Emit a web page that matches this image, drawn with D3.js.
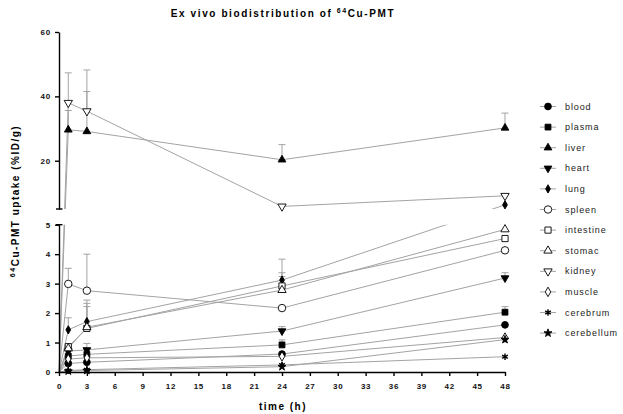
<!DOCTYPE html>
<html>
<head>
<meta charset="utf-8">
<script src="https://cdn.jsdelivr.net/npm/d3@7"></script>
<style>
  body { margin: 0; background: #fff; }
  svg { font-family: "Liberation Sans", Arial, sans-serif; }
  .tick text { font-size: 8px; font-weight: bold; letter-spacing: 0.8px; fill: #111; }
  .axis path, .axis line { stroke: #000; stroke-width: 1.4px; }
</style>
</head>
<body>
<div id="container"></div>
<script>
// time points (h)
const times = [0, 1, 3, 24, 48];
const xTicks = d3.range(0, 49, 3);
const lowTicks = [0, 1, 2, 3, 4, 5];
const highTicks = [20, 40, 60];

const names = ["blood", "plasma", "liver", "heart", "lung", "spleen",
  "intestine", "stomac", "kidney", "muscle", "cerebrum", "cerebellum"];

// %ID/g per tissue, one value per time point
const blood      = [0, 0.29, 0.33, 0.61, 1.60];
const plasma     = [0, 0.54, 0.60, 0.92, 2.03];
const liver      = [0, 29.6, 29.1, 20.3, 30.2];
const heart      = [0, 0.71, 0.75, 1.39, 3.19];
const lung       = [0, 1.43, 1.71, 3.12, 6.3];
const spleen     = [0, 2.99, 2.76, 2.17, 4.13];
const intestine  = [0, 0.86, 1.48, 2.92, 4.53];
const stomac     = [0, 0.80, 1.52, 2.78, 4.84];
const kidney     = [0, 38.0, 35.4, 5.8, 9.1];
const muscle     = [0, 0.44, 0.48, 0.53, 1.17];
const cerebrum   = [0, 0.05, 0.08, 0.24, 0.52];
const cerebellum = [0, 0.03, 0.05, 0.18, 1.10];

// upper error (SD) per time point
const bloodErr      = [0, 0.05, 0.05, 0, 0];
const plasmaErr     = [0, 0, 0, 0.17, 0.19];
const liverErr      = [0, 6.0, 12.4, 4.7, 4.6];
const heartErr      = [0, 0, 0.22, 0.15, 0.18];
const lungErr       = [0, 0.41, 0.73, 0.71, 0];
const spleenErr     = [0, 0.53, 1.24, 0, 0];
const intestineErr  = [0, 0, 0.85, 0.45, 0];
const stomacErr     = [0, 0, 0.70, 0.46, 0];
const kidneyErr     = [0, 9.3, 12.8, 0, 0];
const muscleErr     = [0, 0, 0, 0, 0];
const cerebrumErr   = [0, 0, 0, 0, 0];
const cerebellumErr = [0, 0, 0, 0, 0];

const values = [blood, plasma, liver, heart, lung, spleen, intestine, stomac, kidney, muscle, cerebrum, cerebellum];
const errors = [bloodErr, plasmaErr, liverErr, heartErr, lungErr, spleenErr, intestineErr, stomacErr, kidneyErr, muscleErr, cerebrumErr, cerebellumErr];

const series = names.map((name, i) => ({
  name,
  points: times.map((t, j) => ({ t, v: values[i][j], e: errors[i][j] }))
}));

// marker styles: [shape, filled, size, rotate]
const symbols = [
  [d3.symbolCircle, true, 36, 0], [d3.symbolSquare, true, 34, 0], [d3.symbolTriangle, true, 26, 0],
  [d3.symbolTriangle, true, 26, 180], [d3.symbolDiamond, true, 20, 0], [d3.symbolCircle, false, 44, 0],
  [d3.symbolSquare, false, 38, 0], [d3.symbolTriangle, false, 30, 0], [d3.symbolTriangle, false, 30, 180],
  [d3.symbolDiamond, false, 26, 0], [d3.symbolAsterisk, true, 30, 0], [d3.symbolStar, true, 20, 0]
];
const swidth = i => symbols[i][0] === d3.symbolAsterisk ? 1.4 : 0.9;

const W = 623, H = 414;
const svg = d3.select("#container").append("svg")
  .attr("width", W).attr("height", H);

const x = d3.scaleLinear().domain([0, 48]).range([59, 505]);
const yLow = d3.scaleLinear().domain([0, 5]).range([372, 224.7]);
const yHigh = d3.scaleLinear().domain([5, 60]).range([209, 32]);
const yPos = v => v <= 5 ? yLow(v) : yHigh(v);

// clip lines to the two axis segments (gap hidden)
const clip = svg.append("defs").append("clipPath").attr("id", "panels");
clip.append("rect").attr("x", 50).attr("y", yLow(5)).attr("width", 470).attr("height", yLow(0) - yLow(5) + 4);
clip.append("rect").attr("x", 50).attr("y", 20).attr("width", 470).attr("height", yHigh(5) - 20);

const lineGen = d3.line().x(d => x(d.t)).y(d => yPos(d.v));

const lines = svg.append("g").attr("clip-path", "url(#panels)");
lines.selectAll("path")
  .data(series)
  .join("path")
  .attr("d", d => lineGen(d.points))
  .attr("fill", "none")
  .attr("stroke", "#a3a3a3")
  .attr("stroke-width", 1);

// error bars (upper only)
const errPts = series.flatMap(s => s.points.filter(p => p.e > 0));
const eg = svg.append("g").attr("stroke", "#a3a3a3").attr("stroke-width", 1);
eg.selectAll("line.v")
  .data(errPts).join("line").attr("class", "v")
  .attr("x1", d => x(d.t)).attr("x2", d => x(d.t))
  .attr("y1", d => yPos(d.v)).attr("y2", d => yPos(d.v + d.e));
eg.selectAll("line.c")
  .data(errPts).join("line").attr("class", "c")
  .attr("x1", d => x(d.t) - 3.5).attr("x2", d => x(d.t) + 3.5)
  .attr("y1", d => yPos(d.v + d.e)).attr("y2", d => yPos(d.v + d.e));

// markers
series.forEach((s, i) => {
  const [type, filled, size, rot] = symbols[i];
  svg.append("g").selectAll("path")
    .data(s.points.filter(p => p.t > 0))
    .join("path")
    .attr("transform", d => `translate(${x(d.t)},${yPos(d.v)}) rotate(${rot})`)
    .attr("d", d3.symbol(type, size))
    .attr("fill", filled ? "#000" : "#fff")
    .attr("stroke", "#000")
    .attr("stroke-width", swidth(i));
});

// axes
const fmt = d3.format("d");
svg.append("g").attr("class", "axis")
  .attr("transform", `translate(0,${yLow(0)})`)
  .call(d3.axisBottom(x).tickValues(xTicks).tickFormat(fmt).tickSize(4).tickSizeOuter(0).tickPadding(7));

svg.append("g").attr("class", "axis")
  .attr("transform", `translate(${x(0)},0)`)
  .call(d3.axisLeft(yLow).tickValues(lowTicks).tickFormat(fmt).tickSize(4).tickSizeOuter(0).tickPadding(4));

svg.append("g").attr("class", "axis")
  .attr("transform", `translate(${x(0)},0)`)
  .call(d3.axisLeft(yHigh).tickValues(highTicks).tickFormat(fmt).tickSize(4).tickSizeOuter(0).tickPadding(4));

// break caps at the segment ends
svg.append("g").attr("stroke", "#000").attr("stroke-width", 1.4)
  .selectAll("line")
  .data([yLow(5), yHigh(5)])
  .join("line")
  .attr("x1", x(0) - 3).attr("x2", x(0) + 3.5)
  .attr("y1", d => d).attr("y2", d => d);

// title and axis labels
svg.append("text")
  .attr("x", 283).attr("y", 17)
  .attr("text-anchor", "middle")
  .style("font-size", "10px").style("font-weight", "bold").style("letter-spacing", "1.6px")
  .html('Ex vivo biodistribution of <tspan dy="-4" font-size="7px">64</tspan><tspan dy="4">Cu-PMT</tspan>');

svg.append("text")
  .attr("transform", "translate(19,201) rotate(-90)")
  .attr("text-anchor", "middle")
  .style("font-size", "10px").style("font-weight", "bold").style("letter-spacing", "1.5px")
  .html('<tspan dy="-4" font-size="7px">64</tspan><tspan dy="4">Cu-PMT uptake (%ID/g)</tspan>');

svg.append("text")
  .attr("x", 283).attr("y", 410)
  .attr("text-anchor", "middle")
  .style("font-size", "10px").style("font-weight", "bold").style("letter-spacing", "1.5px")
  .text("time (h)");

// legend
const legend = svg.append("g").attr("transform", "translate(548,106.5)");
const rows = legend.selectAll("g")
  .data(series)
  .join("g")
  .attr("transform", (d, i) => `translate(0,${i * 20.6})`);
rows.append("line")
  .attr("x1", -8).attr("x2", 8)
  .attr("stroke", "#a3a3a3").attr("stroke-width", 1);
rows.append("path")
  .attr("d", (d, i) => d3.symbol(symbols[i][0], symbols[i][2])())
  .attr("transform", (d, i) => `rotate(${symbols[i][3]})`)
  .attr("fill", (d, i) => symbols[i][1] ? "#000" : "#fff")
  .attr("stroke", "#000")
  .attr("stroke-width", (d, i) => swidth(i));
rows.append("text")
  .attr("x", 17).attr("dy", "0.35em")
  .style("font-size", "9px").style("letter-spacing", "0.9px").style("fill", "#222")
  .text(d => d.name);
</script>
</body>
</html>
